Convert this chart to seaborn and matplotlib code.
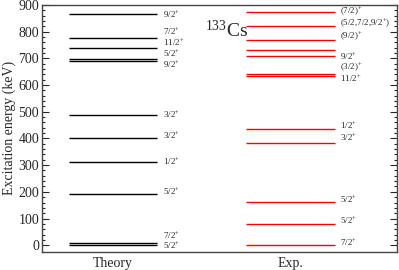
import matplotlib
matplotlib.use("Agg")
import matplotlib.pyplot as plt
import seaborn as sns
import pandas as pd

# ---- data ----
categories = ["Theory", "Exp."]
theory_energy = [864, 777, 738, 697, 688, 486, 403, 312, 192, 10, 1]
theory_spin = ["9/2", "7/2", "11/2", "5/2", "9/2", "3/2", "3/2", "1/2", "5/2", "7/2", "5/2"]
exp_energy = [874, 820, 770, 730, 708, 642, 635, 437, 384, 161, 81, 0]
exp_spin = ["(7/2)", "(5/2,7/2,9/2)", "(9/2)", "", "9/2", "(3/2)", "11/2", "1/2", "3/2", "5/2", "5/2", "7/2"]

# label nudges (keV) to keep spin labels readable
theory_nudge = [0, 25, 21, 19, -10, 4, 6, 1, 8, 28, -3]
exp_nudge = [0, 8, 10, 0, 0, 24, -9, 10, 18, 12, 13, 10]

sns.set_theme(style="ticks")
plt.rcParams["font.family"] = ["Liberation Serif", "DejaVu Serif"]
plt.rcParams["mathtext.fontset"] = "custom"
plt.rcParams["mathtext.rm"] = "Liberation Serif"
plt.rcParams["mathtext.it"] = "Liberation Serif:italic"

df = pd.DataFrame({
    "group": [0] * len(theory_energy) + [1] * len(exp_energy),
    "energy": theory_energy + exp_energy,
})

fig = plt.figure(figsize=(3.99, 2.70), dpi=100)
ax = fig.add_axes([0.105, 0.067, 0.89, 0.915])

half = 0.25
colors = ["black", "red"]
for g in (0, 1):
    sub = df[df.group == g]
    ax.hlines(sub.energy, g - half, g + half, color=colors[g], lw=1.0)

def spin_label(s):
    if s == "":
        return ""
    if s.startswith("(5/2"):
        return "(5/2,7/2,9/2$^{+}$)"
    return s + "$^{+}$"

for e, s, n in zip(theory_energy, theory_spin, theory_nudge):
    ax.text(0 + half + 0.03, e + n, spin_label(s), fontsize=6.5, va="center", ha="left")
for e, s, n in zip(exp_energy, exp_spin, exp_nudge):
    ax.text(1 + half + 0.03, e + n, spin_label(s), fontsize=6.5, va="center", ha="left")

ax.text(0.52, 805, "$^{133}$Cs", fontsize=14, ha="left", va="center")

ax.set_xlim(-0.40, 1.60)
ax.set_ylim(-25, 900)
ax.set_xticks([0, 1])
ax.set_xticklabels(categories, fontsize=10)
ax.set_yticks(range(0, 901, 100))
ax.set_yticks(range(0, 901, 20), minor=True)
ax.tick_params(axis="y", which="both", direction="in", left=True, right=True, labelsize=10, pad=2)
ax.tick_params(axis="y", which="major", length=5, width=0.8)
ax.tick_params(axis="y", which="minor", length=2.5, width=0.8)
ax.tick_params(axis="x", length=0, pad=4)
ax.set_ylabel("Excitation energy (keV)", fontsize=10, labelpad=2)
for sp in ax.spines.values():
    sp.set_visible(True)
    sp.set_linewidth(1.0)
    sp.set_color("#444444")

fig.savefig("out.png", dpi=100)
